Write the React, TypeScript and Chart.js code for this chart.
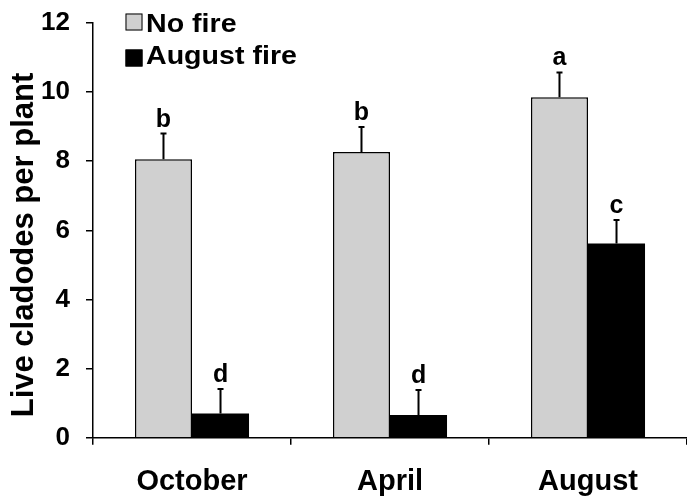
import React, { useEffect, useRef } from 'react';
import { Chart, registerables } from 'chart.js';

Chart.register(...registerables);

const categories = ['October', 'April', 'August'];
const seriesLabels = ['No fire', 'August fire'];
const noFireValues = [8.06, 8.27, 9.85];
const noFireErrors = [0.74, 0.72, 0.72];
const noFireLetters = ['b', 'b', 'a'];
const augustFireValues = [0.7, 0.66, 5.62];
const augustFireErrors = [0.71, 0.72, 0.68];
const augustFireLetters = ['d', 'd', 'c'];
const yTicks = [0, 2, 4, 6, 8, 10, 12];
const yTitle = 'Live cladodes per plant';

const FONT = '"Liberation Sans", Arial, Helvetica, sans-serif';

const annotate = {
  id: 'annotate',
  afterDatasetsDraw(chart: any) {
    const ctx = chart.ctx;
    const yScale = chart.scales.y;
    chart.data.datasets.forEach((ds: any, i: number) => {
      const meta = chart.getDatasetMeta(i);
      meta.data.forEach((el: any, j: number) => {
        const v = ds.data[j];
        const e = ds.errors[j];
        const yTop = yScale.getPixelForValue(v + e);
        ctx.save();
        ctx.strokeStyle = '#000';
        ctx.lineWidth = 2;
        ctx.beginPath();
        ctx.moveTo(el.x, el.y);
        ctx.lineTo(el.x, yTop);
        ctx.moveTo(el.x - 3, yTop);
        ctx.lineTo(el.x + 3, yTop);
        ctx.stroke();
        ctx.fillStyle = '#000';
        ctx.font = `bold 25px ${FONT}`;
        ctx.textAlign = 'center';
        ctx.textBaseline = 'alphabetic';
        ctx.fillText(ds.letters[j], el.x, yTop - 7);
        ctx.restore();
      });
    });
  },
  afterDraw(chart: any) {
    const ctx = chart.ctx;
    // legend
    chart.data.datasets.forEach((ds: any, i: number) => {
      const top = 13.5 + i * 36;
      ctx.save();
      ctx.fillStyle = ds.backgroundColor;
      ctx.fillRect(125.5, top, 17, 17);
      ctx.strokeStyle = '#000';
      ctx.lineWidth = 1;
      ctx.strokeRect(126, top + 0.5, 16, 16);
      ctx.translate(146, 32 + i * 32);
      ctx.scale(1.1, 1);
      ctx.font = `bold 26px ${FONT}`;
      ctx.textAlign = 'left';
      ctx.textBaseline = 'alphabetic';
      ctx.fillStyle = '#000';
      ctx.fillText(ds.label, 0, 0);
      ctx.restore();
    });
    // y title
    ctx.save();
    ctx.translate(33, 245);
    ctx.rotate(-Math.PI / 2);
    ctx.font = `bold 31px ${FONT}`;
    ctx.fillStyle = '#000';
    ctx.textAlign = 'center';
    ctx.textBaseline = 'alphabetic';
    ctx.fillText(yTitle, 0, 0);
    ctx.restore();
  },
};

export default function App() {
  const ref = useRef<HTMLCanvasElement | null>(null);
  useEffect(() => {
    if (!ref.current) return;
    const chart = new Chart(ref.current, {
      type: 'bar',
      data: {
        labels: categories,
        datasets: [
          {
            label: seriesLabels[0],
            data: noFireValues,
            errors: noFireErrors,
            letters: noFireLetters,
            backgroundColor: '#d0d0d0',
            borderColor: '#000',
            borderWidth: 1.5,
            categoryPercentage: 0.576,
            barPercentage: 1,
          } as any,
          {
            label: seriesLabels[1],
            data: augustFireValues,
            errors: augustFireErrors,
            letters: augustFireLetters,
            backgroundColor: '#000000',
            borderColor: '#000',
            borderWidth: 0,
            categoryPercentage: 0.576,
            barPercentage: 1,
          } as any,
        ],
      },
      options: {
        responsive: true,
        maintainAspectRatio: false,
        animation: false,
        layout: { padding: { top: 23, left: 0, right: 0, bottom: 0 } },
        plugins: { legend: { display: false }, tooltip: { enabled: false } },
        scales: {
          x: {
            grid: {
              display: true,
              drawOnChartArea: false,
              drawTicks: true,
              tickLength: 7,
              color: '#000',
              lineWidth: 1.5,
              offset: true,
            },
            border: { color: '#000', width: 1.5 },
            ticks: {
              font: { family: FONT, size: 29, weight: 'bold' },
              color: '#000',
              padding: 20,
            },
            afterFit: (s: any) => {
              s.height = 60.3;
            },
          },
          y: {
            min: 0,
            max: 12,
            afterBuildTicks: (s: any) => {
              s.ticks = yTicks.map((v) => ({ value: v }));
            },
            grid: {
              drawOnChartArea: false,
              drawTicks: true,
              tickLength: 7,
              color: '#000',
              lineWidth: 1.5,
            },
            border: { color: '#000', width: 1.5 },
            ticks: {
              font: { family: FONT, size: 26, weight: 'bold' },
              color: '#000',
              padding: 16,
            },
            afterFit: (s: any) => {
              s.width = 93;
              s.paddingTop = 0;
              s.paddingBottom = 0;
            },
          },
        },
      } as any,
      plugins: [annotate],
    });
    return () => chart.destroy();
  }, []);
  return (
    <div style={{ position: 'fixed', left: 0, top: 0, width: 687, height: 498, background: '#fff' }}>
      <canvas ref={ref} />
    </div>
  );
}
